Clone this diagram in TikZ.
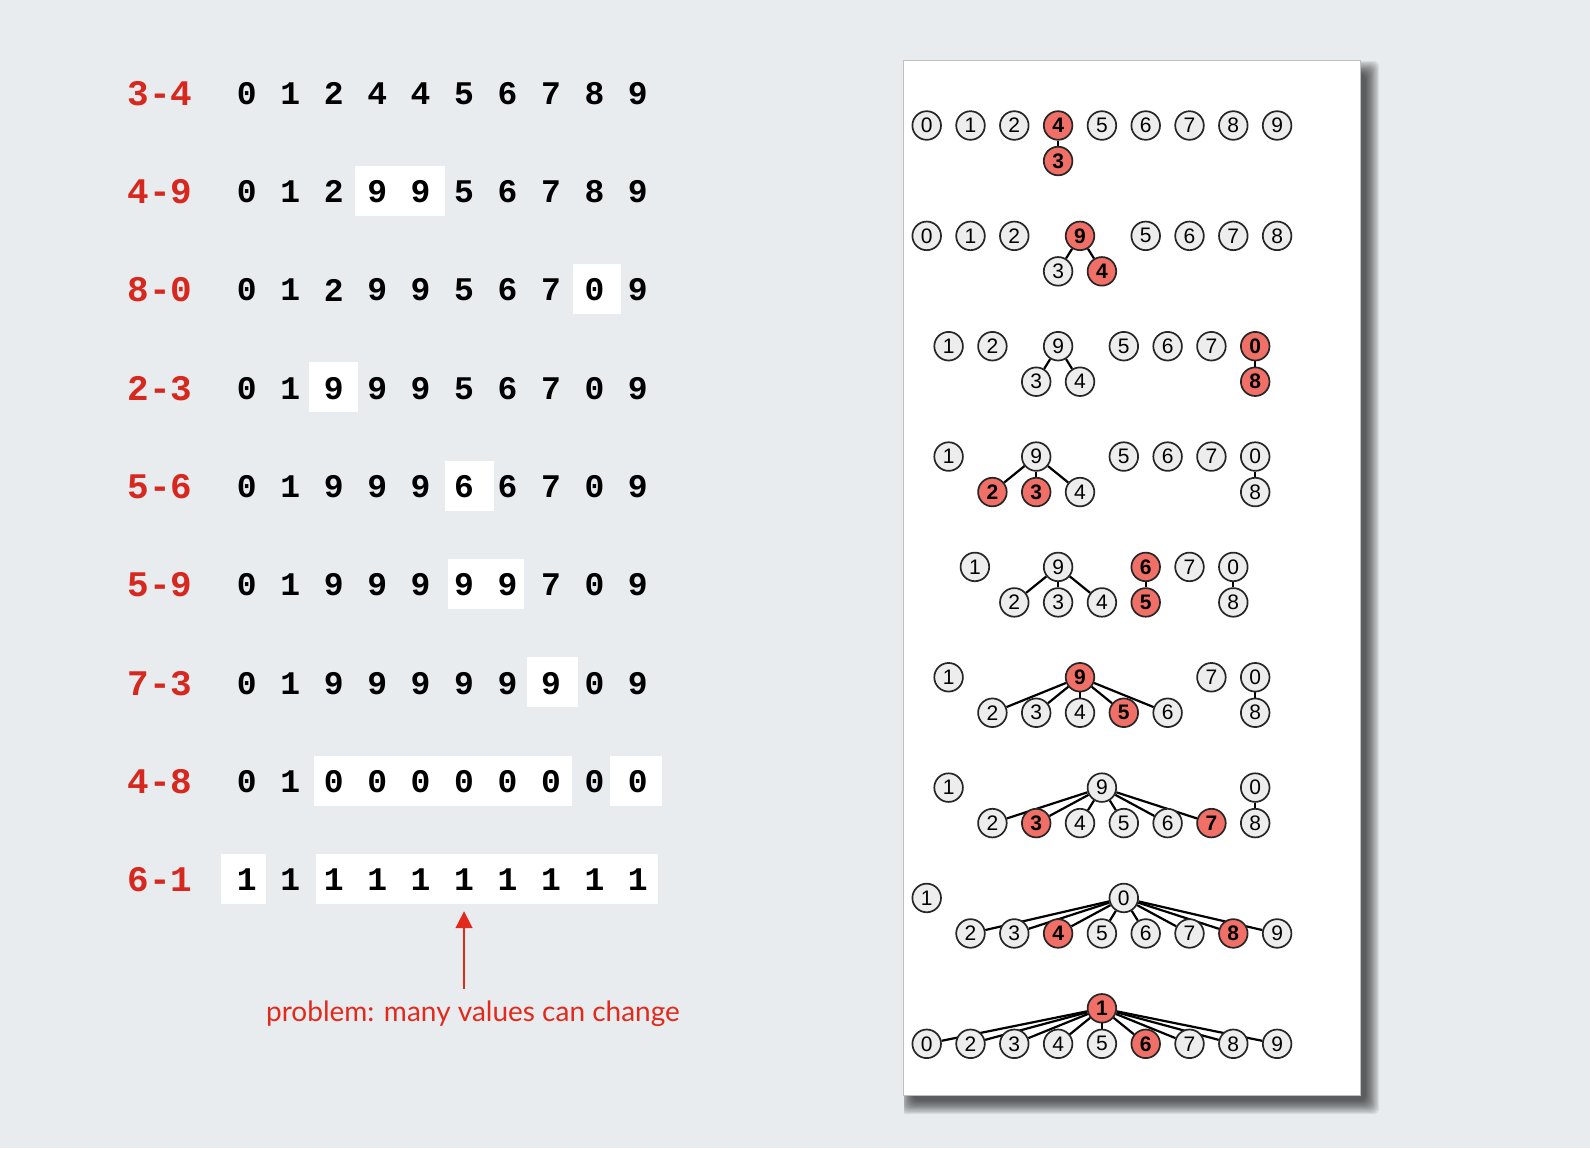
\documentclass[tikz,border=0pt]{standalone}
\usepackage{fontspec}
\setmainfont{Liberation Sans}
\setmonofont{Liberation Mono}
\newfontfamily\notefont{Lato}
\usetikzlibrary{arrows.meta}
\pgfdeclarelayer{bg}
\pgfdeclarelayer{edges}
\pgfsetlayers{bg,edges,main}
\definecolor{bgc}{RGB}{233,236,238}
\definecolor{lblred}{RGB}{214,40,30}
\definecolor{notered}{RGB}{226,42,28}
\definecolor{nodered}{RGB}{240,112,104}
\definecolor{nodegray}{RGB}{237,237,237}
\tikzset{
  lbl/.style={text=lblred, inner sep=0pt, font=\ttfamily\bfseries\fontsize{18}{18}\selectfont},
  digit/.style={text=black, inner sep=0pt, font=\ttfamily\bfseries\fontsize{16.5}{16.5}\selectfont},
  hbox/.style={fill=white},
  tn/.style={circle, draw=black!85, line width=0.85pt, fill=nodegray, minimum size=14.3pt,
             inner sep=0pt, font=\fontsize{10.5}{10.5}\selectfont},
  rnode/.style={fill=nodered, font=\bfseries\fontsize{10.5}{10.5}\selectfont},
  edge/.style={draw=black, line width=1.1pt},
  note/.style={text=notered, inner sep=0pt, font=\notefont\fontsize{14}{14}\selectfont},
  arr/.style={draw=notered, line width=1.35pt, -{Triangle[width=8.3pt,length=8.5pt]}}
}
\newcommand\grayn[4]{\node[tn] (t#1n#2) at ({926.7+43.8*(#3)},{125.5+110.35*(#1-1)+35.5*(#4)}) {#2};}
\newcommand\redn[4]{\node[tn,rnode] (t#1n#2) at ({926.7+43.8*(#3)},{125.5+110.35*(#1-1)+35.5*(#4)}) {#2};}
\begin{document}
\begin{tikzpicture}[x=0.5pt,y=-0.5pt]
\begin{pgfonlayer}{bg}
\fill[bgc] (0,0) rectangle (1590,1148);
\begin{scope}
\clip (904,61) rectangle (1590,1148);
\foreach \m in {0,...,11}
  {\fill[black,opacity=0.07,rounded corners=3pt]
    ({913-\m*1.2},{74-\m*1.2}) rectangle ({1366+\m*1.2},{1101+\m*1.2});}
\end{scope}
\fill[white] (903.3,60) rectangle (1360,1095);
\draw[black!25,line width=0.4pt] (903.3,60) rectangle (1360,1095);
\end{pgfonlayer}
\useasboundingbox (0,0) rectangle (1590,1148);

% ---------- left: array rows ----------
\foreach \r/\xa/\xb in {1/355/444.6, 2/573/621, 3/309/358, 4/445/494, 5/448/524,
                        6/526.7/578.3, 7/314/571.7, 7/610/662, 8/220.7/266, 8/316/658.3}
  {\fill[hbox] (\xa,{93.5+98.3*\r-26}) rectangle (\xb,{93.5+98.3*\r+24});}

\foreach \lab/\vals [count=\r from 0] in {
    3-4/{0,1,2,4,4,5,6,7,8,9},
    4-9/{0,1,2,9,9,5,6,7,8,9},
    8-0/{0,1,2,9,9,5,6,7,0,9},
    2-3/{0,1,9,9,9,5,6,7,0,9},
    5-6/{0,1,9,9,9,6,6,7,0,9},
    5-9/{0,1,9,9,9,9,9,7,0,9},
    7-3/{0,1,9,9,9,9,9,9,0,9},
    4-8/{0,1,0,0,0,0,0,0,0,0},
    6-1/{1,1,1,1,1,1,1,1,1,1}} {
  \node[lbl] (L\r) at (160,{93.5+98.3*\r}) {\lab};
  \foreach \v [count=\c from 0] in \vals
    {\node[digit] (a\r c\c) at ({246.8+43.45*\c},{93.5+98.3*\r}) {\v};}
}

\node[note] (note) at (473,1014) {problem: many values can change};
\draw[arr] ([yshift=6pt]note.north -| a8c5) -- ([yshift=-10pt]a8c5.south);

% ---------- right: trees ----------
% row 1
\foreach \d/\k/\l in {0/0/0,1/1/0,2/2/0,5/4/0,6/5/0,7/6/0,8/7/0,9/8/0} {\grayn{1}{\d}{\k}{\l}}
\redn{1}{4}{3}{0}
\redn{1}{3}{3}{1}
% row 2
\foreach \d/\k/\l in {0/0/0,1/1/0,2/2/0,5/5/0,6/6/0,7/7/0,8/8/0,3/3/1} {\grayn{2}{\d}{\k}{\l}}
\redn{2}{9}{3.5}{0}
\redn{2}{4}{4}{1}
% row 3
\foreach \d/\k/\l in {1/0.5/0,2/1.5/0,9/3/0,5/4.5/0,6/5.5/0,7/6.5/0,3/2.5/1,4/3.5/1} {\grayn{3}{\d}{\k}{\l}}
\redn{3}{0}{7.5}{0}
\redn{3}{8}{7.5}{1}
% row 4
\foreach \d/\k/\l in {1/0.5/0,9/2.5/0,5/4.5/0,6/5.5/0,7/6.5/0,0/7.5/0,4/3.5/1,8/7.5/1} {\grayn{4}{\d}{\k}{\l}}
\redn{4}{2}{1.5}{1}
\redn{4}{3}{2.5}{1}
% row 5
\foreach \d/\k/\l in {1/1.1/0,9/3/0,7/6/0,0/7/0,2/2/1,3/3/1,4/4/1,8/7/1} {\grayn{5}{\d}{\k}{\l}}
\redn{5}{6}{5}{0}
\redn{5}{5}{5}{1}
% row 6
\foreach \d/\k/\l in {1/0.5/0,7/6.5/0,0/7.5/0,2/1.5/1,3/2.5/1,4/3.5/1,6/5.5/1,8/7.5/1} {\grayn{6}{\d}{\k}{\l}}
\redn{6}{9}{3.5}{0}
\redn{6}{5}{4.5}{1}
% row 7
\foreach \d/\k/\l in {1/0.5/0,9/4/0,0/7.5/0,2/1.5/1,4/3.5/1,5/4.5/1,6/5.5/1,8/7.5/1} {\grayn{7}{\d}{\k}{\l}}
\redn{7}{3}{2.5}{1}
\redn{7}{7}{6.5}{1}
% row 8
\foreach \d/\k/\l in {1/0/0,0/4.5/0,2/1/1,3/2/1,5/4/1,6/5/1,7/6/1,9/8/1} {\grayn{8}{\d}{\k}{\l}}
\redn{8}{4}{3}{1}
\redn{8}{8}{7}{1}
% row 9
\foreach \d/\k/\l in {0/0/1,2/1/1,3/2/1,4/3/1,5/4/1,7/6/1,8/7/1,9/8/1} {\grayn{9}{\d}{\k}{\l}}
\redn{9}{1}{4}{0}
\redn{9}{6}{5}{1}

% edges
\begin{pgfonlayer}{edges}
\draw[edge] (t1n4) -- (t1n3);
\foreach \c in {3,4} {\draw[edge] (t2n9) -- (t2n\c);}
\foreach \c in {3,4} {\draw[edge] (t3n9) -- (t3n\c);}
\draw[edge] (t3n0) -- (t3n8);
\foreach \c in {2,3,4} {\draw[edge] (t4n9) -- (t4n\c);}
\draw[edge] (t4n0) -- (t4n8);
\foreach \c in {2,3,4} {\draw[edge] (t5n9) -- (t5n\c);}
\draw[edge] (t5n6) -- (t5n5);
\draw[edge] (t5n0) -- (t5n8);
\foreach \c in {2,...,6} {\draw[edge] (t6n9) -- (t6n\c);}
\draw[edge] (t6n0) -- (t6n8);
\foreach \c in {2,...,7} {\draw[edge] (t7n9) -- (t7n\c);}
\draw[edge] (t7n0) -- (t7n8);
\foreach \c in {2,...,9} {\draw[edge] (t8n0) -- (t8n\c);}
\foreach \c in {0,2,3,4,5,6,7,8,9} {\draw[edge] (t9n1) -- (t9n\c);}
\end{pgfonlayer}
\end{tikzpicture}
\end{document}
